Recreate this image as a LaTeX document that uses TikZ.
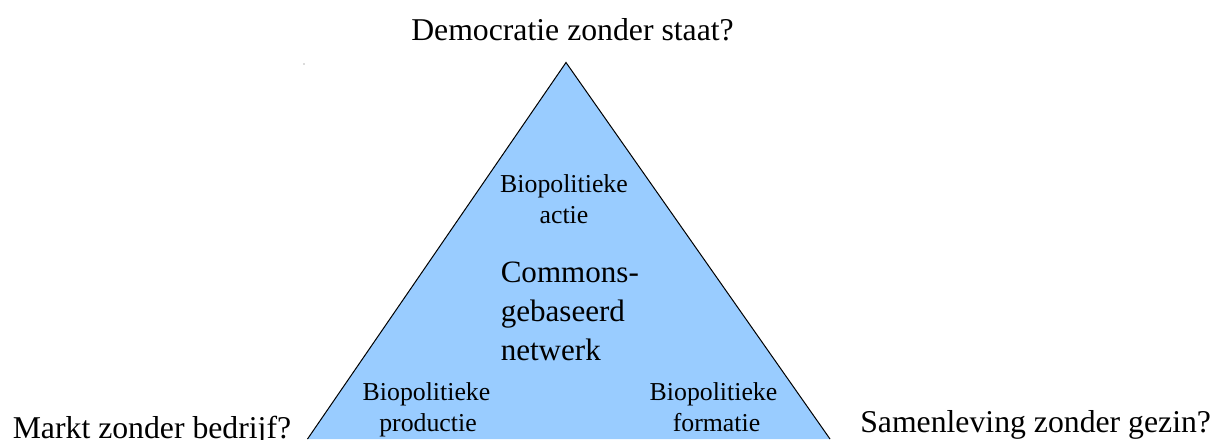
\documentclass[tikz,border=0pt]{standalone}
\usepackage{fontspec}
\setmainfont{Liberation Serif}
\definecolor{trifill}{HTML}{99CCFF}
\begin{document}
\begin{tikzpicture}[x=0.75pt,y=-0.75pt,
  bigtxt/.style={inner sep=0pt,font=\fontsize{23.8}{28}\selectfont},
  midtxt/.style={inner sep=0pt,font=\fontsize{23.3}{28}\selectfont},
  smalltxt/.style={inner sep=0pt,font=\fontsize{19.35}{23}\selectfont}]
\useasboundingbox (0,0) rectangle (1219,439);
% triangle
\coordinate (apex) at (566,62.5);
\coordinate (bl) at (307.5,439);
\coordinate (br) at (830,439);
\fill[trifill] (bl) -- (apex) -- (br) -- cycle;
\draw[line width=0.75pt] (bl) -- (apex) -- (br);
% stray dot
\fill[black!60] (304,64) circle (0.6);
% outer labels
\node[bigtxt,anchor=base] (dem) at (572.5,40) {Democratie zonder staat?};
\node[bigtxt,anchor=base west] (markt) at (12.5,438) {Markt zonder bedrijf?};
\node[bigtxt,anchor=base west] (samen) at (860,432.7) {Samenleving zonder gezin?};
% top inner label
\node[smalltxt,anchor=base] (actA) at (564,192.3) {Biopolitieke};
\node[smalltxt,anchor=base] (actB) at (564,223) {actie};
% centre label
\node[midtxt,anchor=base west] (comA) at (500.5,282.5) {Commons-};
\node[midtxt,anchor=base west] (comB) at (500.5,321.3) {gebaseerd};
\node[midtxt,anchor=base west] (comC) at (500.5,360) {netwerk};
% bottom left inner label
\node[smalltxt,anchor=base] (prodA) at (426.5,400) {Biopolitieke};
\node[smalltxt,anchor=base] (prodB) at (428,431.7) {productie};
% bottom right inner label
\node[smalltxt,anchor=base] (formA) at (713.5,400) {Biopolitieke};
\node[smalltxt,anchor=base] (formB) at (716.5,431.7) {formatie};
\end{tikzpicture}
\end{document}
